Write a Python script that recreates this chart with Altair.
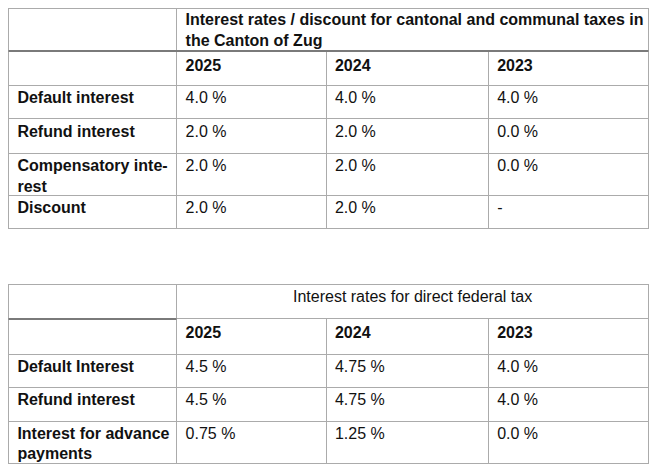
import math
import altair as alt
import pandas as pd

# ---------------- data ----------------
title_cantonal = "Interest rates / discount for cantonal and communal taxes in\nthe Canton of Zug"
title_federal = "Interest rates for direct federal tax"
years = ["2025", "2024", "2023"]

cantonal_rows = ["Default interest", "Refund interest", "Compensatory inte-\nrest", "Discount"]
cantonal_2025 = ["4.0 %", "2.0 %", "2.0 %", "2.0 %"]
cantonal_2024 = ["4.0 %", "2.0 %", "2.0 %", "2.0 %"]
cantonal_2023 = ["4.0 %", "0.0 %", "0.0 %", "-"]

federal_rows = ["Default Interest", "Refund interest", "Interest for advance\npayments"]
federal_2025 = ["4.5 %", "4.5 %", "0.75 %"]
federal_2024 = ["4.75 %", "4.75 %", "1.25 %"]
federal_2023 = ["4.0 %", "4.0 %", "0.0 %"]

# ---------------- layout ----------------
COL_EDGES = [2, 172, 323, 487, 649]
T1_ROWS = [5, 48, 83, 117, 152, 195, 228]
T2_ROWS = [285, 320, 356, 390, 424, 467]
PAD_X = 9
BASE = 18
YEAR_BASE = 20
LINE_H = 20.5
FONT = "Liberation Sans"
FONT_SIZE = 16
TEXT_COLOR = "#111111"
THIN_COLOR = "#ababab"
THICK_COLOR = "#7a7a7a"

W, H = 641, 456
X0, X1 = 8.5, 648.5
Y0, Y1 = 8.5, 463.5


def fx(v):
    return X0 + (v - COL_EDGES[0]) * (X1 - X0) / (COL_EDGES[-1] - COL_EDGES[0])


def fy(v):
    return Y0 + (v - T1_ROWS[0]) * (Y1 - Y0) / (T2_ROWS[-1] - T1_ROWS[0])


def crisp(p):
    return math.floor(p) + 0.5


L, C1, C2, C3, R = COL_EDGES

# grid segments
thin, thick = [], []


def hline(y, xa, xb, kind="thin"):
    if kind == "thin":
        yy = crisp(fy(y))
        thin.append(dict(x1=crisp(fx(xa)), x2=crisp(fx(xb)), y1=yy, y2=yy))
    else:
        yy = round(fy(y))
        thick.append(dict(x1=crisp(fx(xa)), x2=crisp(fx(xb)), y1=yy, y2=yy))


def vline(x, ya, yb):
    xx = crisp(fx(x))
    thin.append(dict(x1=xx, x2=xx, y1=crisp(fy(ya)), y2=crisp(fy(yb))))


# table 1
for i, y in enumerate(T1_ROWS):
    hline(y, L, R, "thick" if i == 1 else "thin")
for x in (L, C1, R):
    vline(x, T1_ROWS[0], T1_ROWS[-1])
for x in (C2, C3):
    vline(x, T1_ROWS[1], T1_ROWS[-1])

# table 2
for i, y in enumerate(T2_ROWS):
    if i == 1:
        hline(y, L, C1, "thick")
        hline(y, C1, R, "thin")
    else:
        hline(y, L, R, "thin")
for x in (L, C1, R):
    vline(x, T2_ROWS[0], T2_ROWS[-1])
for x in (C2, C3):
    vline(x, T2_ROWS[1], T2_ROWS[-1])

# texts
bold, regular, centered = [], [], []
val_cols = [C1, C2, C3]


def put(lst, text, xref, yref):
    lst.append(dict(text=text, x=fx(xref), y=fy(yref)))


# table 1
put(bold, title_cantonal, C1 + PAD_X, T1_ROWS[0] + BASE - 1)
for yr, c in zip(years, val_cols):
    put(bold, yr, c + PAD_X, T1_ROWS[1] + YEAR_BASE)
for i, (lab, a, b, c) in enumerate(zip(cantonal_rows, cantonal_2025, cantonal_2024, cantonal_2023)):
    top = T1_ROWS[2 + i]
    put(bold, lab, L + PAD_X, top + BASE)
    for v, col in zip((a, b, c), val_cols):
        put(regular, v, col + PAD_X, top + BASE)

# table 2
centered.append(dict(text=title_federal, x=fx((C1 + R) / 2), y=fy(T2_ROWS[0] + BASE)))
for yr, c in zip(years, val_cols):
    put(bold, yr, c + PAD_X, T2_ROWS[1] + YEAR_BASE)
for i, (lab, a, b, c) in enumerate(zip(federal_rows, federal_2025, federal_2024, federal_2023)):
    top = T2_ROWS[2 + i]
    put(bold, lab, L + PAD_X, top + BASE)
    for v, col in zip((a, b, c), val_cols):
        put(regular, v, col + PAD_X, top + BASE)

xs = alt.Scale(domain=[8, 8 + W], range=[0, W])
ys = alt.Scale(domain=[8, 8 + H], reverse=True)

enc_rule = dict(
    x=alt.X("x1:Q", scale=xs, axis=None),
    x2="x2:Q",
    y=alt.Y("y1:Q", scale=ys, axis=None),
    y2="y2:Q",
)

thin_layer = alt.Chart(pd.DataFrame(thin)).mark_rule(
    color=THIN_COLOR, strokeWidth=1, strokeCap="square"
).encode(**enc_rule)
thick_layer = alt.Chart(pd.DataFrame(thick)).mark_rule(
    color=THICK_COLOR, strokeWidth=2
).encode(**enc_rule)

enc_text = dict(
    x=alt.X("x:Q", scale=xs, axis=None),
    y=alt.Y("y:Q", scale=ys, axis=None),
    text="text:N",
)
common = dict(font=FONT, fontSize=FONT_SIZE, color=TEXT_COLOR, baseline="alphabetic",
              lineBreak="\n", lineHeight=LINE_H)

bold_layer = alt.Chart(pd.DataFrame(bold)).mark_text(
    align="left", fontWeight="bold", **common).encode(**enc_text)
reg_layer = alt.Chart(pd.DataFrame(regular)).mark_text(
    align="left", fontWeight="normal", **common).encode(**enc_text)
cen_layer = alt.Chart(pd.DataFrame(centered)).mark_text(
    align="center", fontWeight="normal", **common).encode(**enc_text)

chart = alt.layer(thin_layer, thick_layer, bold_layer, reg_layer, cen_layer).properties(
    width=W, height=H, padding=0, autosize=alt.AutoSizeParams(type="none"),
    background="white",
).configure_view(stroke=None)

chart.save("out.html", embed_options={"renderer": "svg", "actions": False})
